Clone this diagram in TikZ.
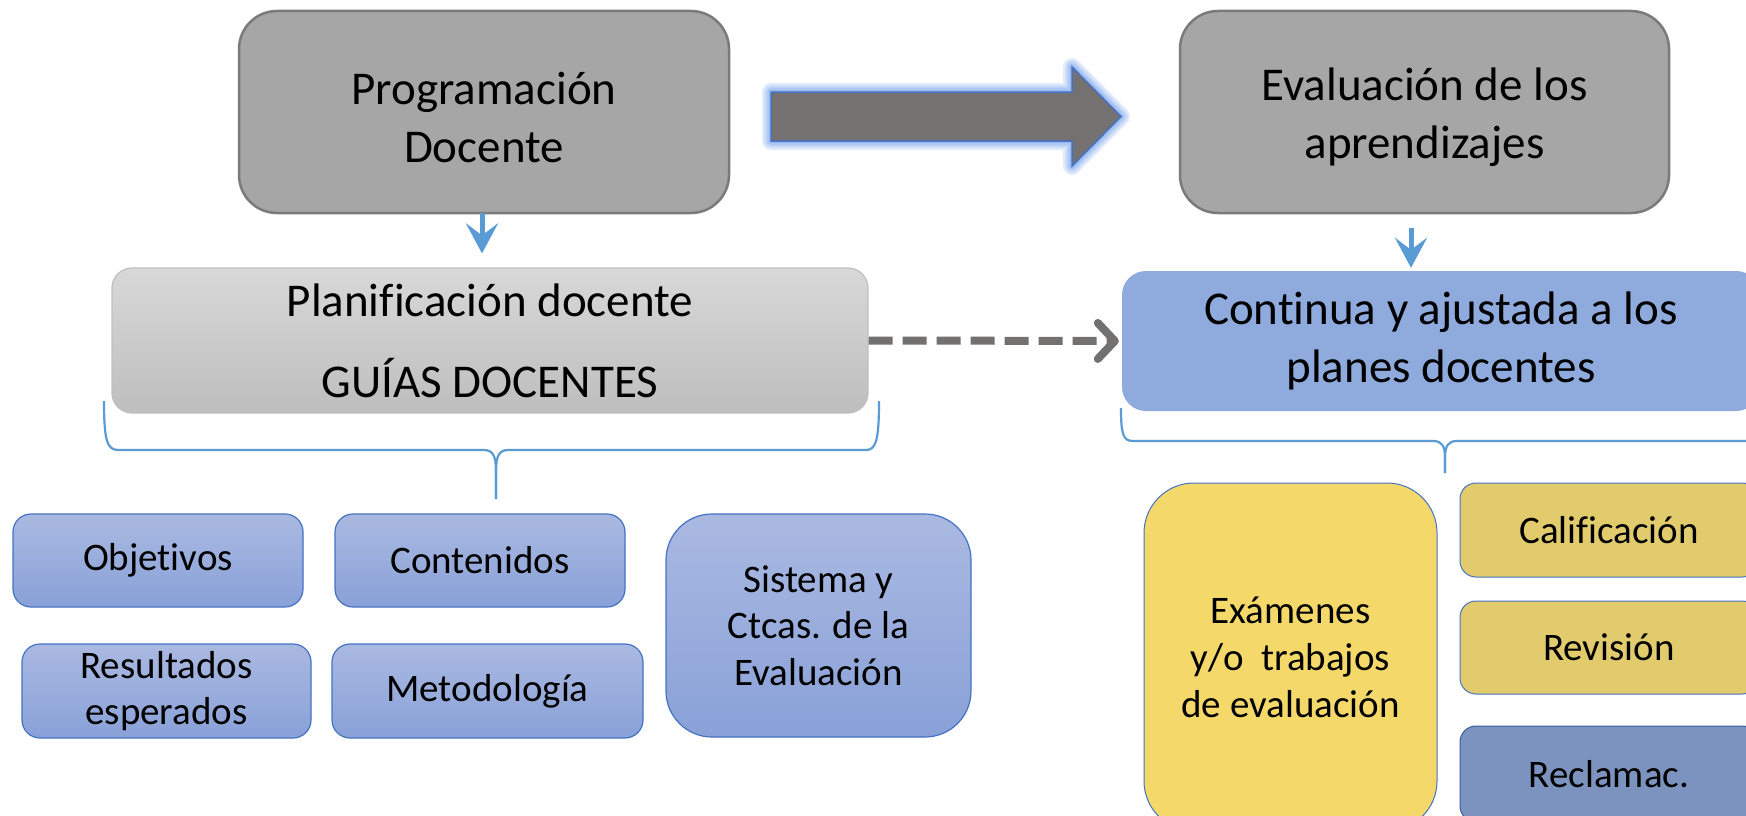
\documentclass[tikz,border=0pt]{standalone}
\usepackage{fontspec}
\setmainfont{Carlito}[Ligatures=NoCommon]
\usetikzlibrary{arrows.meta}
\definecolor{grayfill}{HTML}{A6A6A6}
\definecolor{grayline}{HTML}{7A7A7A}
\definecolor{plantop}{HTML}{D8D8D8}
\definecolor{planbot}{HTML}{BEBEBE}
\definecolor{planline}{HTML}{BFBFBF}
\definecolor{contfill}{HTML}{8FAADC}
\definecolor{smalltop}{HTML}{AAB9E1}
\definecolor{smallbot}{HTML}{89A1D8}
\definecolor{boxline}{HTML}{4472C4}
\definecolor{yellowA}{HTML}{F4D96A}
\definecolor{yellowB}{HTML}{E2CB6C}
\definecolor{reclfill}{HTML}{7B93BE}
\definecolor{arrowgray}{HTML}{767171}
\definecolor{dashgray}{HTML}{737070}
\definecolor{lightblue}{HTML}{5B9BD5}
\definecolor{glowblue}{HTML}{5C8FEA}
\tikzset{
  bigbox/.style={draw=grayline, line width=2.5pt, fill=grayfill, rounded corners=38pt,
    inner sep=0pt, align=center, font=\fontsize{47}{58}\selectfont},
  planbox/.style={draw=planline, line width=1.2pt, top color=plantop, bottom color=planbot,
    rounded corners=20pt, inner sep=0pt, align=center, font=\fontsize{47}{58}\selectfont},
  contbox/.style={fill=contfill, rounded corners=24pt, inner sep=0pt, align=center,
    font=\fontsize{47}{58}\selectfont},
  smallbox/.style={draw=boxline, line width=1.2pt, top color=smalltop, bottom color=smallbot,
    rounded corners=18pt, inner sep=0pt, align=center, font=\fontsize{39}{46.5}\selectfont},
  yelbox/.style={draw=boxline, line width=1pt, rounded corners=16pt, inner sep=0pt,
    align=center, font=\fontsize{39}{47}\selectfont},
  bluearrow/.style={draw=lightblue, line width=5pt, -{Stealth[length=30pt,width=32pt,inset=12pt]}},
  dasharrow/.style={draw=dashgray, line width=8pt, dash pattern=on 24pt off 10pt,
    -{Straight Barb[length=17pt,width=36pt,round]}},
  bracestyle/.style={draw=lightblue, line width=2.2pt}
}
\begin{document}
\begin{tikzpicture}[x=1pt,y=-1pt]
\useasboundingbox (0,0) rectangle (1746,816);
\clip (0,0) rectangle (1746,816);
\fill[white] (0,0) rectangle (1746,816);

% top boxes
\node[bigbox, minimum width=490pt, minimum height=202pt] (prog) at (484,112) {\rule{0pt}{0pt}\\[-14pt]Programación\\Docente};
\node[bigbox, minimum width=489pt, minimum height=202pt] (eval) at (1424.5,112) {\rule{0pt}{0pt}\\[-14pt]Evaluación de los\\aprendizajes};

% big block arrow with glow
\def\bigarrow{(771,92) -- (1072,92) -- (1072,67) -- (1121,116.5) -- (1072,166) -- (1072,141) -- (771,141) -- cycle}
\foreach \w in {18,14,10,7,4}{
  \draw[glowblue, line width=\w pt, line join=round, opacity=0.16] \bigarrow;
}
\fill[arrowgray] \bigarrow;
\draw[boxline, line width=1.5pt, line join=miter] \bigarrow;

% second row
\node[planbox, minimum width=756pt, minimum height=145pt] (plan) at (490,340.5)
  {Planificación docente\\[23pt]GUÍAS DOCENTES};
\node[contbox, minimum width=638pt, minimum height=140pt] (cont) at (1441,341)
  {Continua y ajustada a los\\planes docentes};

% arrows
\coordinate (pa) at (482,213);
\draw[bluearrow, shorten >=14pt] (pa) -- (pa |- plan.north);
\coordinate (ea) at (1411,228);
\draw[bluearrow, shorten >=3pt] (ea) -- (ea |- cont.north);
\draw[dasharrow, shorten >=3pt] (plan.east) -- (cont.west);

% braces
\coordinate (lbA) at (104,401);
\coordinate (lbT) at (496,499);
\coordinate (lbB) at (879,401);
\draw[bracestyle] (lbA) .. controls (104,440) and (107,450) .. (118,450) -- (484,450)
  .. controls (493,450) and (496,456) .. (496,472) -- (lbT);
\draw[bracestyle] (lbT) -- (496,472) .. controls (496,456) and (499,450) .. (508,450)
  -- (866,450) .. controls (876,450) and (879,440) .. (lbB);
\coordinate (rbA) at (1121,408);
\coordinate (rbT) at (1445,473);
\draw[bracestyle] (rbA) .. controls (1121,434) and (1123,441) .. (1133,441) -- (1433,441)
  .. controls (1442,441) and (1445,446) .. (1445,458) -- (rbT);
\draw[bracestyle] (rbT) -- (1445,458) .. controls (1445,446) and (1448,441) .. (1457,441)
  -- (1760,441);

% left bottom boxes
\node[smallbox, minimum width=290pt, minimum height=93pt] (obj) at (158,560.5) {Objetivos};
\node[smallbox, minimum width=290pt, minimum height=93pt] (con) at (480,560.5) {Contenidos};
\node[smallbox, minimum width=289pt, minimum height=94pt] (res) at (166.5,691) {Resultados\\esperados};
\node[smallbox, minimum width=311pt, minimum height=94pt] (met) at (487.5,691) {Metodología};
\node[smallbox, rounded corners=46pt, minimum width=305pt, minimum height=223pt] (sis) at (818.5,625.5)
  {Sistema y\\Ctcas. de la\\Evaluación};

% right bottom boxes
\node[yelbox, fill=yellowA, rounded corners=50pt, minimum width=293pt, minimum height=348pt] (exa) at (1290.5,657)
  {Exámenes\\y/o\ \ trabajos\\de evaluación};
\node[yelbox, fill=yellowB, minimum width=298pt, minimum height=94pt] (cal) at (1609,530) {Calificación};
\node[yelbox, fill=yellowB, minimum width=298pt, minimum height=93pt] (rev) at (1609,647.5) {Revisión};
\node[yelbox, fill=reclfill, draw=boxline!80!black, minimum width=298pt, minimum height=96pt] (rec) at (1609,774) {Reclamac.};
\end{tikzpicture}
\end{document}
